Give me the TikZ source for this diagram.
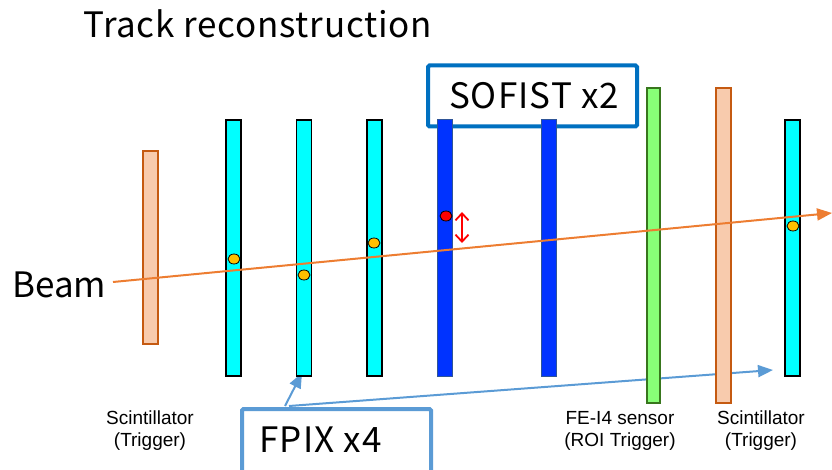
\documentclass[tikz,border=0pt]{standalone}
\usepackage{fontspec}
\setmainfont{Noto Sans CJK JP}
\newfontfamily\labelfont{Liberation Sans}
\usetikzlibrary{arrows.meta,calc,shapes.geometric}

\definecolor{pixcyan}{HTML}{00FFFF}
\definecolor{sofblue}{HTML}{0033FF}
\definecolor{sofedge}{HTML}{2F5597}
\definecolor{feigreen}{HTML}{88FF77}
\definecolor{feiedge}{HTML}{38761D}
\definecolor{scifill}{HTML}{F8CBAD}
\definecolor{sciedge}{HTML}{C55A11}
\definecolor{beamorange}{HTML}{ED7D31}
\definecolor{hitgold}{HTML}{FFC000}
\definecolor{boxblue}{HTML}{0070C0}
\definecolor{callblue}{HTML}{5B9BD5}

\tikzset{
  bar/.style={rectangle, inner sep=0pt, outer sep=0pt, minimum width=15pt},
  fpixbar/.style={bar, fill=pixcyan, draw=black, line width=1.6pt, minimum height=256pt},
  sofbar/.style={bar, fill=sofblue, draw=sofedge, line width=1pt, minimum height=256pt},
  feibar/.style={bar, fill=feigreen, draw=feiedge, line width=1.4pt, minimum width=13pt, minimum height=315pt},
  scibar/.style={bar, fill=scifill, draw=sciedge, line width=1.4pt},
  hit/.style={ellipse, inner sep=0pt, minimum width=12pt, minimum height=10pt, fill=hitgold, draw=black, line width=0.8pt},
  redhit/.style={hit, fill=red},
  calloutbox/.style={rectangle, fill=white, line width=4pt, rounded corners=1.5pt, inner sep=0pt},
  bigtext/.style={font=\fontsize{35}{40}\selectfont\addfontfeatures{LetterSpace=#1}, inner sep=0pt},
  bigtext/.default=0,
  smalllabel/.style={font=\labelfont\fontsize{19}{22}\selectfont, align=center, inner sep=0pt},
  callarrow/.style={draw=callblue, line width=2pt, -{Triangle[length=15pt,width=12pt]}},
}

\begin{document}
\begin{tikzpicture}[x=1pt,y=-1pt]
\useasboundingbox (0,0) rectangle (832,470);
\clip (0,0) rectangle (832,470);

% title
\node[bigtext=2.2, anchor=base west] (title) at (83,38) {Track reconstruction};

% SOFIST label box (drawn below the sensor bars)
\node[calloutbox, draw=boxblue, minimum width=209pt, minimum height=61pt] (sofbox) at (532.5,96) {};
\node[bigtext=3.2] (softext) at (534,95.5) {SOFIST x2};

% FPIX label box
\node[calloutbox, draw=callblue, minimum width=189pt, minimum height=90pt, anchor=north west] (fpixbox) at (240,407) {};
\node[bigtext=3.6, anchor=base west] (fpixtext) at (259,452) {FPIX x4};

% callout arrows from the FPIX box
\coordinate (fpixsrc) at (285,406);
\coordinate (rightsrc) at (289,406);
\coordinate (tipR) at (773,370);
\coordinate (tipL) at (302,373);
\draw[callarrow] (fpixsrc) -- (tipL);
\draw[callarrow] (rightsrc) -- (tipR);

% sensor planes
\node[scibar, minimum height=193pt] (sciL) at (150.5,247.5) {};
\node[fpixbar] (f1) at (233.5,248) {};
\node[fpixbar] (f2) at (304,248) {};
\node[fpixbar] (f3) at (374.5,248) {};
\node[sofbar] (s1) at (445,248) {};
\node[sofbar] (s2) at (548.5,248) {};
\node[feibar] (fei) at (653.5,245.5) {};
\node[scibar, minimum height=315pt] (sciR) at (723.5,245.5) {};
\node[fpixbar] (f4) at (792.5,248) {};

% beam
\coordinate (beamstart) at (113,282);
\coordinate (beamend) at (832,213);
\draw[beamorange, line width=2pt, -{Triangle[length=15pt,width=12pt]}] (beamstart) -- (beamend);
\node[bigtext, anchor=base west] (beamlabel) at (12,297) {Beam};

% hits
\node[hit] (h1) at (234,259) {};
\node[hit] (h2) at (304,275) {};
\node[hit] (h3) at (374,243) {};
\node[redhit] (h4) at (446,216) {};
\node[hit] (h5) at (793,226) {};

% residual marker
\coordinate (resA) at (462,212);
\coordinate (resB) at (462,243);
\draw[red, line width=1.8pt, {Straight Barb[length=7pt,width=13pt]}-{Straight Barb[length=7pt,width=13pt]}] (resA) -- (resB);

% plane labels
\node[smalllabel] (lblSciL) at (150,431) {Scintillator\\(Trigger)};
\node[smalllabel] (lblFei) at (620,431) {FE-I4 sensor\\(ROI Trigger)};
\node[smalllabel] (lblSciR) at (761,431) {Scintillator\\(Trigger)};
\end{tikzpicture}
\end{document}
